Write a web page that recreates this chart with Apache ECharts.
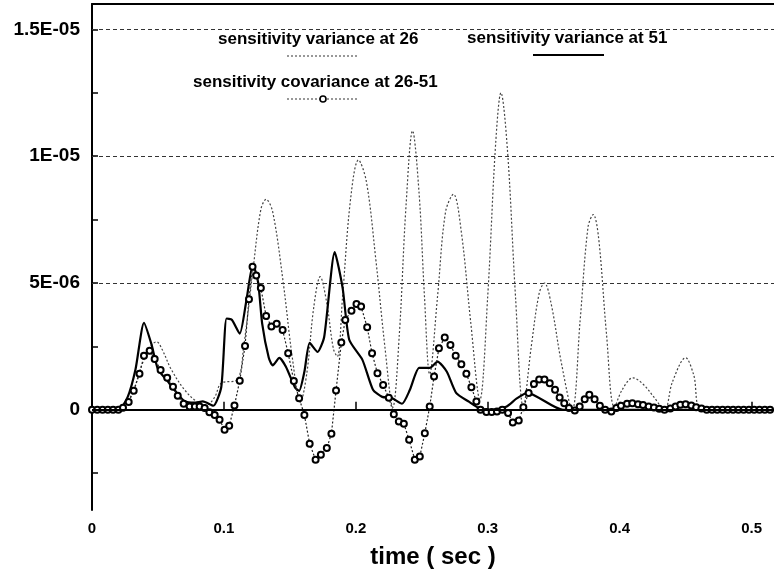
<!DOCTYPE html>
<html>
<head>
<meta charset="utf-8">
<script src="https://cdn.jsdelivr.net/npm/echarts@6/dist/echarts.min.js"></script>
<style>
  html, body { margin: 0; padding: 0; background: #fff; }
  #chart { width: 774px; height: 575px; }
</style>
</head>
<body>
<div id="chart"></div>
<script>
// values are in units of 1E-06
const var26T = [0, 0.02, 0.03, 0.038, 0.045, 0.049, 0.053, 0.06, 0.07, 0.08, 0.087, 0.093, 0.098, 0.11, 0.115, 0.122, 0.128, 0.132, 0.137, 0.145, 0.152, 0.158, 0.163, 0.168, 0.173, 0.178, 0.183, 0.186, 0.19, 0.196, 0.202, 0.208, 0.215, 0.222, 0.228, 0.233, 0.238, 0.243, 0.248, 0.252, 0.256, 0.262, 0.268, 0.274, 0.28, 0.287, 0.294, 0.3, 0.306, 0.31, 0.315, 0.321, 0.327, 0.333, 0.339, 0.343, 0.348, 0.356, 0.364, 0.37, 0.376, 0.38, 0.384, 0.39, 0.396, 0.402, 0.41, 0.418, 0.426, 0.434, 0.44, 0.45, 0.456, 0.463, 0.517];
const var26V = [0, 0, 0.6, 1.8, 2.55, 2.68, 2.4, 1.6, 0.8, 0.3, 0.2, 0.5, 1.05, 1.18, 2.5, 5.5, 7.9, 8.3, 7.8, 5.0, 2.0, 0.3, 1.5, 4.0, 5.25, 4.2, 2.4, 2.1, 4.5, 8.3, 9.85, 9.0, 6.0, 2.5, 0.1, 3.0, 8.0, 11.0, 8.5, 4.5, 1.4, 4.5, 7.8, 8.5, 7.0, 3.5, 0.4, 4.5, 10.5, 12.5, 10.2, 4.5, 0.1, 2.5, 4.6, 5.0, 4.2, 1.8, 0.0, 3.5, 7.2, 7.7, 6.8, 3.0, 0.1, 0.8, 1.26, 1.0, 0.5, 0.0, 1.1, 2.05, 1.4, 0.0, 0];

const var51T = [0, 0.02, 0.027, 0.033, 0.0394, 0.045, 0.05, 0.057, 0.063, 0.07, 0.078, 0.084, 0.092, 0.098, 0.102, 0.106, 0.112, 0.117, 0.122, 0.126, 0.129, 0.134, 0.137, 0.142, 0.147, 0.154, 0.157, 0.161, 0.165, 0.171, 0.176, 0.184, 0.19, 0.195, 0.205, 0.213, 0.22, 0.227, 0.235, 0.241, 0.248, 0.256, 0.262, 0.269, 0.276, 0.286, 0.294, 0.304, 0.314, 0.322, 0.33, 0.357, 0.517];
const var51V = [0, 0, 0.5, 1.6, 3.43, 2.6, 1.6, 1.15, 0.75, 0.35, 0.28, 0.33, 0.16, 0.9, 3.6, 3.55, 3.0, 4.3, 5.75, 5.0, 3.4, 2.05, 1.75, 2.05, 1.7, 0.87, 0.75, 1.5, 2.64, 2.28, 2.87, 6.22, 4.8, 2.76, 1.97, 0.79, 0.51, 0.47, 0.24, 0.79, 1.65, 1.65, 1.9, 1.5, 0.67, 0.31, 0.05, 0, 0.12, 0.45, 0.67, 0, 0];

const covT = [0, 0.004, 0.008, 0.012, 0.016, 0.02, 0.0235, 0.0278, 0.0316, 0.036, 0.0394, 0.0437, 0.0475, 0.052, 0.057, 0.0614, 0.065, 0.0695, 0.074, 0.078, 0.0816, 0.0854, 0.089, 0.093, 0.0967, 0.1005, 0.104, 0.108, 0.112, 0.116, 0.119, 0.1217, 0.1245, 0.128, 0.132, 0.136, 0.14, 0.1445, 0.1487, 0.153, 0.157, 0.161, 0.165, 0.1695, 0.1735, 0.178, 0.1815, 0.185, 0.189, 0.192, 0.1967, 0.2005, 0.204, 0.2086, 0.2123, 0.2164, 0.2207, 0.225, 0.2288, 0.2326, 0.2364, 0.2404, 0.2447, 0.2485, 0.2523, 0.256, 0.2593, 0.263, 0.2674, 0.2717, 0.2757, 0.28, 0.2838, 0.2876, 0.2914, 0.2945, 0.299, 0.303, 0.307, 0.311, 0.3154, 0.319, 0.3235, 0.327, 0.331, 0.335, 0.339, 0.343, 0.347, 0.351, 0.3545, 0.358, 0.3616, 0.366, 0.3697, 0.3735, 0.377, 0.381, 0.385, 0.389, 0.3937, 0.3975, 0.401, 0.4056, 0.4096, 0.4139, 0.4177, 0.422, 0.426, 0.43, 0.434, 0.4384, 0.4424, 0.446, 0.45, 0.4543, 0.458, 0.462, 0.466, 0.47, 0.474, 0.478, 0.482, 0.486, 0.49, 0.494, 0.498, 0.502, 0.506, 0.51, 0.514];
const covV = [0, 0, 0, 0, 0, 0, 0.08, 0.31, 0.75, 1.42, 2.13, 2.33, 2.0, 1.57, 1.26, 0.91, 0.55, 0.24, 0.13, 0.13, 0.13, 0.07, -0.1, -0.2, -0.39, -0.79, -0.63, 0.17, 1.15, 2.52, 4.36, 5.64, 5.3, 4.8, 3.7, 3.28, 3.39, 3.15, 2.23, 1.14, 0.46, -0.2, -1.34, -1.97, -1.77, -1.51, -0.94, 0.76, 2.65, 3.54, 3.91, 4.17, 4.07, 3.26, 2.23, 1.44, 0.98, 0.48, -0.17, -0.46, -0.55, -1.18, -1.97, -1.84, -0.92, 0.13, 1.31, 2.43, 2.85, 2.56, 2.13, 1.8, 1.42, 0.89, 0.33, 0.0, -0.09, -0.09, -0.07, 0.0, -0.13, -0.5, -0.42, 0.1, 0.66, 1.02, 1.2, 1.2, 1.05, 0.79, 0.49, 0.26, 0.07, -0.03, 0.13, 0.42, 0.59, 0.42, 0.16, 0.0, -0.07, 0.07, 0.16, 0.24, 0.26, 0.22, 0.19, 0.13, 0.09, 0.04, 0.0, 0.05, 0.13, 0.2, 0.22, 0.17, 0.1, 0.05, 0, 0, 0, 0, 0, 0, 0, 0, 0, 0, 0, 0, 0];

const yLabelValues = [0, 5, 10, 15];
const yLabelTexts = ['0', '5E-06', '1E-05', '1.5E-05'];
const yTickValues = [-2.5, 0, 2.5, 5, 7.5, 10, 12.5, 15];
const gridValues = [5, 10, 15];

const legendNames = ['sensitivity variance at 26', 'sensitivity variance at 51', 'sensitivity covariance at 26-51'];

const pairs = (t, v) => t.map((x, i) => [x, v[i]]);
const font = 'Liberation Sans, Arial, sans-serif';

const chart = echarts.init(document.getElementById('chart'));
chart.setOption({
    animation: false,
    backgroundColor: '#fff',
    grid: { left: 92, right: 0, top: 4, bottom: 65, containLabel: false, outerBoundsMode: 'none' },
    xAxis: [{
        type: 'value', min: 0, max: 0.517, interval: 0.1,
        name: 'time ( sec )', nameLocation: 'middle', nameGap: 35,
        nameTextStyle: { fontFamily: font, fontWeight: 'bold', fontSize: 24, color: '#000' },
        axisLine: { lineStyle: { color: '#000', width: 2 } },
        axisTick: { inside: true, length: 8, lineStyle: { color: '#000', width: 1.5 } },
        axisLabel: { showMaxLabel: false, margin: 11, fontFamily: font, fontWeight: 'bold', fontSize: 15, color: '#000' },
        splitLine: { show: false }
    }, {
        type: 'value', position: 'top', min: 0, max: 0.517,
        axisLine: { show: true, lineStyle: { color: '#000', width: 2 } },
        axisTick: { show: false }, axisLabel: { show: false }, splitLine: { show: false }
    }],
    yAxis: {
        type: 'value', min: -3.95, max: 16,
        axisLine: { show: true, lineStyle: { color: '#000', width: 2 } },
        axisTick: { show: true, inside: true, length: 6, customValues: yTickValues, lineStyle: { color: '#000', width: 1.5 } },
        axisLabel: {
            customValues: yLabelValues, margin: 12,
            fontFamily: font, fontWeight: 'bold', fontSize: 19, color: '#000',
            formatter: v => yLabelTexts[yLabelValues.indexOf(v)] || ''
        },
        splitLine: { show: false }
    },
    series: [{
        type: 'line', data: [], silent: true, z: 1,
        markLine: {
            silent: true, symbol: ['none', 'none'], label: { show: false },
            lineStyle: { color: '#333', width: 1, type: [4, 3] },
            data: gridValues.map(v => ({ yAxis: v }))
        }
    }, {
        type: 'line', data: [], silent: true, z: 1,
        markLine: {
            silent: true, symbol: ['none', 'none'], label: { show: false },
            lineStyle: { color: '#000', width: 2, type: 'solid' },
            data: [{ yAxis: 0 }]
        }
    }, {
        name: legendNames[0], type: 'line', data: pairs(var26T, var26V),
        smooth: 0.35, showSymbol: false, z: 2,
        lineStyle: { color: '#444', width: 1.2, type: [2, 2] }
    }, {
        name: legendNames[1], type: 'line', data: pairs(var51T, var51V),
        smooth: 0.2, showSymbol: false, z: 3,
        lineStyle: { color: '#000', width: 2.2 }
    }, {
        name: legendNames[2], type: 'line', data: pairs(covT, covV),
        smooth: false, symbol: 'emptyCircle', symbolSize: 6, z: 4,
        lineStyle: { color: '#222', width: 1.2, type: [2, 2] },
        itemStyle: { color: '#000', borderWidth: 1.6, borderColor: '#000' }
    }],
    graphic: [
        { type: 'text', left: 218, top: 31, style: { text: legendNames[0], font: 'bold 17px ' + font, fill: '#000' } },
        { type: 'line', shape: { x1: 287, y1: 56, x2: 358, y2: 56 }, style: { stroke: '#333', lineWidth: 1, lineDash: [2, 2] } },
        { type: 'text', left: 467, top: 30, style: { text: legendNames[1], font: 'bold 17px ' + font, fill: '#000' } },
        { type: 'line', shape: { x1: 533, y1: 55, x2: 604, y2: 55 }, style: { stroke: '#000', lineWidth: 2 } },
        { type: 'text', left: 193, top: 74, style: { text: legendNames[2], font: 'bold 17px ' + font, fill: '#000' } },
        { type: 'line', shape: { x1: 287, y1: 99, x2: 358, y2: 99 }, style: { stroke: '#333', lineWidth: 1, lineDash: [2, 2] } },
        { type: 'circle', shape: { cx: 323, cy: 99, r: 3 }, style: { fill: '#fff', stroke: '#000', lineWidth: 1.6 } }
    ]
});
</script>
</body>
</html>
